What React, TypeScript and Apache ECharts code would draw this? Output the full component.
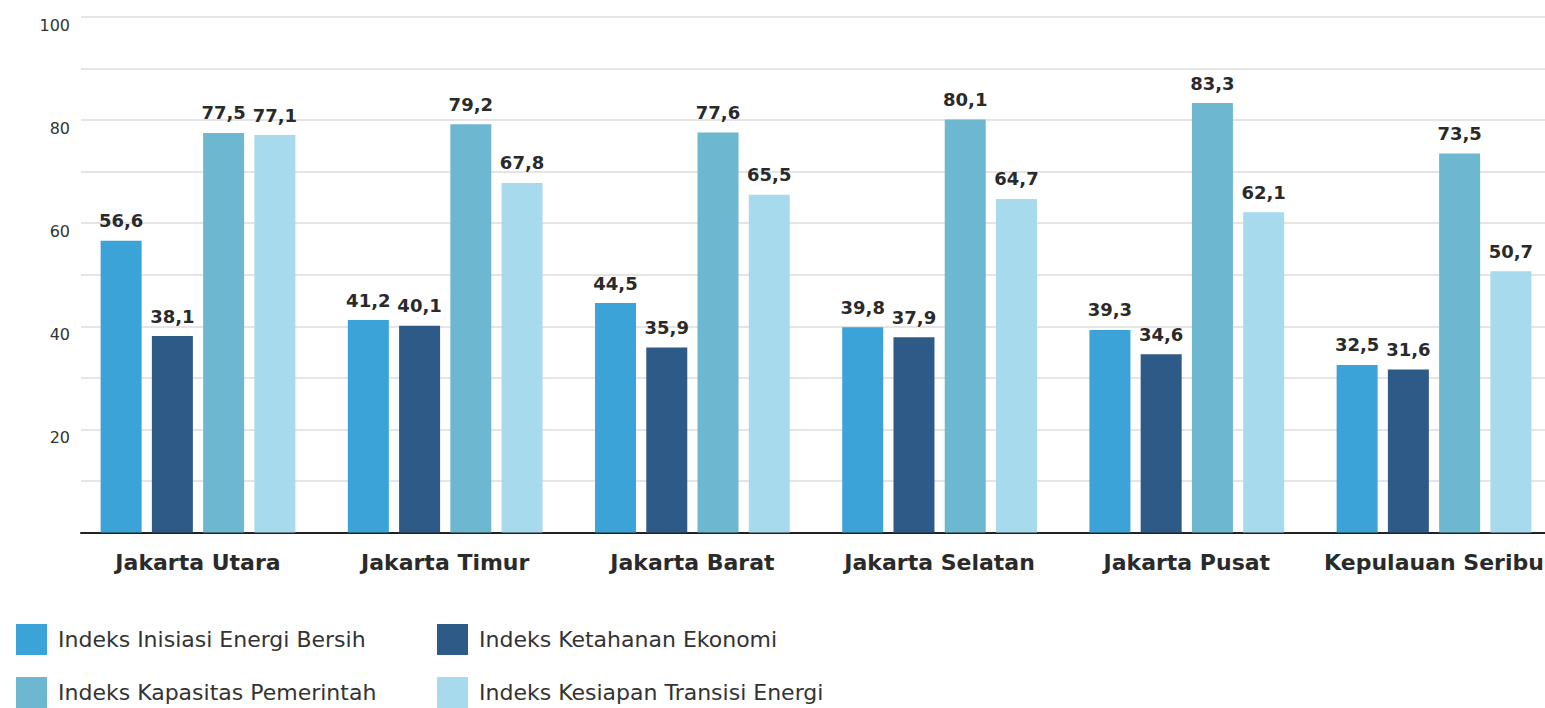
import React, { useEffect, useRef } from "react";
import * as echarts from "echarts";

const categories = [
  "Jakarta Utara",
  "Jakarta Timur",
  "Jakarta Barat",
  "Jakarta Selatan",
  "Jakarta Pusat",
  "Kepulauan Seribu",
];

const seriesNames = [
  "Indeks Inisiasi Energi Bersih",
  "Indeks Ketahanan Ekonomi",
  "Indeks Kapasitas Pemerintah",
  "Indeks Kesiapan Transisi Energi",
];

const inisiasiEnergi = [56.6, 41.2, 44.5, 39.8, 39.3, 32.5];
const ketahananEkonomi = [38.1, 40.1, 35.9, 37.9, 34.6, 31.6];
const kapasitasPemerintah = [77.5, 79.2, 77.6, 80.1, 83.3, 73.5];
const kesiapanTransisi = [77.1, 67.8, 65.5, 64.7, 62.1, 50.7];

const seriesValues = [inisiasiEnergi, ketahananEkonomi, kapasitasPemerintah, kesiapanTransisi];
const colors = ["#3BA3D8", "#2D5A87", "#6DB7D0", "#A6DAEC"];

const FONT = "'DejaVu Sans', 'Noto Sans', sans-serif";
const TEXT = "#2a2a2a";

export default function App() {
  const ref = useRef<HTMLDivElement>(null);

  useEffect(() => {
    if (!ref.current) return;
    const chart = echarts.init(ref.current, undefined, { renderer: "svg" });
    const top = 17;
    const bottom = 175.5;
    const legendText = { fontSize: 22, color: "#333333", fontFamily: FONT, padding: [0, 0, 0, 6] };
    const option: any = {
      animation: false,
      backgroundColor: "#ffffff",
      textStyle: { fontFamily: FONT },
      grid: [
        { left: 81, right: 15, top, bottom },
        { left: 74.4, width: 1483.2, top, bottom },
      ],
      xAxis: [
        {
          gridIndex: 0,
          type: "category",
          data: [""],
          axisLine: { show: true, lineStyle: { color: "#222222", width: 2 } },
          axisTick: { show: false },
          axisLabel: { show: false },
          splitLine: { show: false },
        },
        {
          gridIndex: 1,
          type: "category",
          data: categories,
          axisLine: { show: false },
          axisTick: { show: false },
          axisLabel: {
            show: true,
            interval: 0,
            hideOverlap: false,
            margin: 19,
            fontSize: 22,
            fontWeight: "bold",
            color: TEXT,
            fontFamily: FONT,
          },
        },
      ],
      yAxis: [
        {
          gridIndex: 0,
          type: "value",
          min: 0,
          max: 100,
          interval: 10,
          axisLine: { show: false },
          axisTick: { show: false },
          axisLabel: {
            margin: 11,
            fontSize: 16,
            color: "#333333",
            fontFamily: FONT,
            verticalAlign: "top",
            formatter: (v: number) => (v > 0 && v % 20 === 0 ? String(v) : ""),
          },
          splitLine: { show: true, lineStyle: { color: "#dcdcdc", width: 1.5 } },
        },
        {
          gridIndex: 1,
          type: "value",
          min: 0,
          max: 100,
          show: false,
          splitLine: { show: false },
        },
      ],
      legend: [
        {
          data: [seriesNames[0], seriesNames[2]],
          orient: "vertical",
          left: 16,
          top: 624,
          padding: 0,
          itemWidth: 31,
          itemHeight: 31,
          itemGap: 22,
          icon: "rect",
          selectedMode: false,
          textStyle: legendText,
        },
        {
          data: [seriesNames[1], seriesNames[3]],
          orient: "vertical",
          left: 437,
          top: 624,
          padding: 0,
          itemWidth: 31,
          itemHeight: 31,
          itemGap: 22,
          icon: "rect",
          selectedMode: false,
          textStyle: legendText,
        },
      ],
      series: seriesNames.map((name, i) => ({
        name,
        type: "bar",
        xAxisIndex: 1,
        yAxisIndex: 1,
        data: seriesValues[i],
        barWidth: 41,
        barGap: "25%",
        itemStyle: { color: colors[i] },
        label: {
          show: true,
          position: "top",
          distance: 11,
          fontSize: 18,
          fontWeight: "bold",
          color: TEXT,
          fontFamily: FONT,
          formatter: (p: any) => Number(p.value).toFixed(1).replace(".", ","),
        },
      })),
    };
    chart.setOption(option);
    return () => chart.dispose();
  }, []);

  return (
    <div
      ref={ref}
      style={{ position: "fixed", left: 0, top: 0, width: 1560, height: 708, background: "#fff" }}
    />
  );
}
